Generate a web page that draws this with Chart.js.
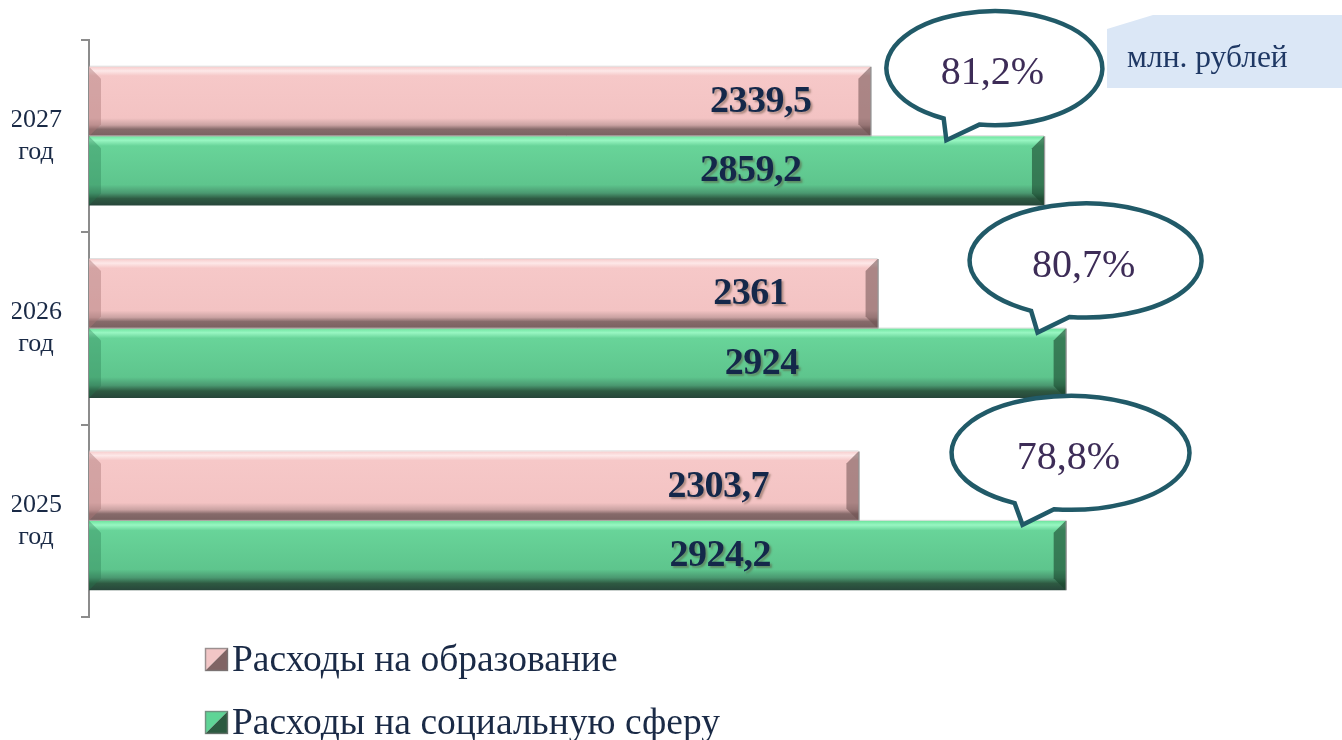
<!DOCTYPE html>
<html lang="ru">
<head>
<meta charset="utf-8">
<title>Расходы на образование и социальную сферу</title>
<script src="https://cdn.jsdelivr.net/npm/chart.js@4.4.1/dist/chart.umd.min.js"></script>
<style>
  html, body { margin: 0; padding: 0; background: #fff; }
  #wrap { position: relative; width: 1342px; height: 740px; }
</style>
</head>
<body>
<div id="wrap"><canvas id="grafico"></canvas></div>
<script>
// Данные (млн. рублей), сверху вниз
const anios = [["2027", "год"], ["2026", "год"], ["2025", "год"]];
const educacion = [2339.5, 2361, 2303.7];
const social = [2859.2, 2924, 2924.2];
const porcentajes = [81.2, 80.7, 78.8];
const unidades = "млн. рублей";

const FUENTE = '"Liberation Serif", "Times New Roman", serif';
const TEXTO = "#1a2a46";
const BISEL = 12;

function formato(v) {
  return String(v).replace(".", ",");
}

function gradiente(ctx, top, bottom, stops) {
  const g = ctx.createLinearGradient(0, top, 0, bottom);
  stops.forEach(s => g.addColorStop(s[0], s[1]));
  return g;
}

// Цвета "объёмных" полос
const estilos = [
  {
    stops: [[0, "#f7cdcd"], [0.06, "#fde8e8"], [0.13, "#f6c8c8"], [0.74, "#f3c3c3"], [0.84, "#caa2a2"], [0.9, "#866a6a"], [1, "#7a6060"]],
    izq: "rgba(170,120,120,0.45)", der: "rgba(110,80,80,0.55)", legenda: ["#f2c6c6", "#806464"]
  },
  {
    stops: [[0, "#6ee49e"], [0.06, "#98f6c2"], [0.14, "#68d499"], [0.7, "#5ec58d"], [0.82, "#4a9870"], [0.9, "#2e5a42"], [1, "#27463a"]],
    izq: "rgba(40,120,80,0.35)", der: "rgba(25,70,45,0.6)", legenda: ["#5fd496", "#2c5a40"]
  }
];

const barras3d = {
  id: "barras3d",
  beforeDatasetsDraw(chart) {
    const ctx = chart.ctx;
    chart.data.datasets.forEach((ds, i) => {
      chart.getDatasetMeta(i).data.forEach(el => {
        const top = el.y - el.height / 2;
        // у каждой полосы свой градиент
        el.options = Object.assign({}, el.options, {
          backgroundColor: gradiente(ctx, top, top + el.height, estilos[i].stops)
        });
      });
    });
  },
  afterDatasetsDraw(chart) {
    const ctx = chart.ctx;
    const xs = chart.scales.x;
    const o = chart.options.plugins.barras3d;
    chart.data.datasets.forEach((ds, i) => {
      chart.getDatasetMeta(i).data.forEach((el, j) => {
        const x0 = el.base, x1 = el.x;
        const top = el.y - el.height / 2, bot = el.y + el.height / 2;
        ctx.save();
        // левый скос
        ctx.fillStyle = estilos[i].izq;
        ctx.beginPath();
        ctx.moveTo(x0, top); ctx.lineTo(x0 + BISEL, top + BISEL);
        ctx.lineTo(x0 + BISEL, bot - BISEL); ctx.lineTo(x0, bot);
        ctx.closePath(); ctx.fill();
        // правый скос
        ctx.fillStyle = estilos[i].der;
        ctx.beginPath();
        ctx.moveTo(x1, top); ctx.lineTo(x1 - BISEL, top + BISEL);
        ctx.lineTo(x1 - BISEL, bot - BISEL); ctx.lineTo(x1, bot);
        ctx.closePath(); ctx.fill();
        ctx.strokeStyle = "rgba(90,90,90,0.6)";
        ctx.lineWidth = 1.5;
        ctx.beginPath(); ctx.moveTo(x1 + 0.5, top); ctx.lineTo(x1 + 0.5, bot); ctx.stroke();
        ctx.strokeStyle = "rgba(200,200,200,0.6)";
        ctx.lineWidth = 1;
        ctx.beginPath(); ctx.moveTo(x0, top - 0.5); ctx.lineTo(x1, top - 0.5); ctx.stroke();

        // подпись значения
        ctx.font = "bold 38px " + FUENTE;
        ctx.letterSpacing = "-0.5px";
        ctx.textAlign = "center";
        ctx.textBaseline = "alphabetic";
        ctx.shadowColor = "rgba(90,70,50,0.45)";
        ctx.shadowOffsetX = 2; ctx.shadowOffsetY = 2; ctx.shadowBlur = 2;
        ctx.fillStyle = "#14284a";
        ctx.fillText(formato(ds.data[j]), xs.getPixelForValue(o.labelAt[i][j]), el.y + 10.5);
        ctx.restore();
      });
    });
  }
};

// Выноски с процентами, подпись единиц, легенда
const extras = {
  id: "extras",
  afterDraw(chart) {
    const ctx = chart.ctx;
    const xs = chart.scales.x;
    const o = chart.options.plugins.extras;
    const a1 = 118 * Math.PI / 180, a2 = 98 * Math.PI / 180;

    chart.getDatasetMeta(1).data.forEach((el, i) => {
      const tx = xs.getPixelForValue(o.bubbleAt[i]);
      const ty = el.y - el.height / 2 + 4;
      const cx = tx + 48, cy = ty - 72;
      ctx.save();
      ctx.beginPath();
      ctx.ellipse(cx, cy, o.rx[i], 57, 0, a1, a2, false);
      ctx.lineTo(tx, ty);
      ctx.closePath();
      ctx.fillStyle = "#fff";
      ctx.fill();
      ctx.lineWidth = 4.5;
      ctx.strokeStyle = "#215a68";
      ctx.stroke();
      ctx.font = "40px " + FUENTE;
      ctx.fillStyle = "#3d2c57";
      ctx.textAlign = "center";
      ctx.textBaseline = "alphabetic";
      ctx.fillText(formato(porcentajes[i]) + "%", cx - 2, cy + 16);
      ctx.restore();
    });

    // плашка "млн. рублей"
    ctx.save();
    ctx.fillStyle = "#dbe7f6";
    ctx.beginPath();
    ctx.moveTo(1107, 29); ctx.lineTo(1153, 15); ctx.lineTo(1342, 15);
    ctx.lineTo(1342, 88); ctx.lineTo(1107, 88);
    ctx.closePath(); ctx.fill();
    ctx.font = "31.5px " + FUENTE;
    ctx.fillStyle = "#1f3864";
    ctx.textAlign = "left";
    ctx.textBaseline = "alphabetic";
    ctx.fillText(unidades, 1127, 67);
    ctx.restore();

    // легенда
    chart.data.datasets.forEach((ds, i) => {
      const bx = 205, by = 648 + i * 63, s = 23;
      const c = estilos[i].legenda;
      ctx.save();
      ctx.fillStyle = c[0];
      ctx.beginPath(); ctx.moveTo(bx, by); ctx.lineTo(bx + s, by); ctx.lineTo(bx, by + s); ctx.closePath(); ctx.fill();
      ctx.fillStyle = c[1];
      ctx.beginPath(); ctx.moveTo(bx + s, by); ctx.lineTo(bx + s, by + s); ctx.lineTo(bx, by + s); ctx.closePath(); ctx.fill();
      ctx.strokeStyle = "rgba(120,120,120,0.7)";
      ctx.lineWidth = 1.5;
      ctx.strokeRect(bx + 0.5, by + 0.5, s - 1, s - 1);
      ctx.font = "37.5px " + FUENTE;
      ctx.fillStyle = TEXTO;
      ctx.textAlign = "left";
      ctx.textBaseline = "alphabetic";
      ctx.fillText(ds.label, 232, by + 23);
      ctx.restore();
    });
  }
};

const ctx = document.getElementById("grafico").getContext("2d");
const grafico = new Chart(ctx, {
  type: "bar",
  data: {
    labels: anios,
    datasets: [
      { label: "Расходы на образование", data: educacion, backgroundColor: "#f3c3c3", borderWidth: 0 },
      { label: "Расходы на социальную сферу", data: social, backgroundColor: "#5ec58d", borderWidth: 0 }
    ]
  },
  options: {
    indexAxis: "y",
    responsive: true,
    maintainAspectRatio: false,
    animation: false,
    categoryPercentage: 0.722,
    barPercentage: 1,
    layout: { padding: { top: 40, bottom: 123, left: 12, right: 84 } },
    scales: {
      x: { display: false, min: 0, max: 3500 },
      y: {
        afterFit(scale) {
          scale.width = 77;
          scale.paddingTop = 0;
          scale.paddingBottom = 0;
        },
        grid: { offset: true, drawOnChartArea: false, tickLength: 8, color: "#8c8c8c", lineWidth: 2 },
        border: { color: "#8c8c8c", width: 2 },
        ticks: {
          crossAlign: "center",
          padding: 19,
          color: TEXTO,
          font: { family: FUENTE, size: 26, lineHeight: 1.23 }
        }
      }
    },
    plugins: {
      legend: { display: false },
      tooltip: { enabled: false },
      barras3d: { labelAt: [[2011, 1980, 1884], [1981, 2014, 1890]] },
      extras: { bubbleAt: [2567, 2840, 2795], rx: [108, 116, 119] }
    }
  },
  plugins: [barras3d, extras]
});
</script>
</body>
</html>
